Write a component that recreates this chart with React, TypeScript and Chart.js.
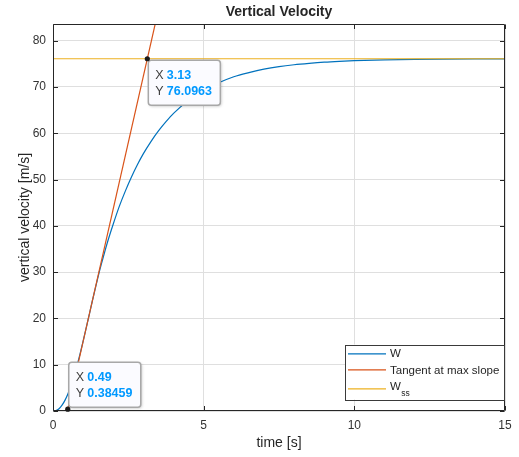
import React, { useEffect, useRef } from 'react';
import { Chart, registerables } from 'chart.js';

Chart.register(...registerables);

// ---- data ----
const timeW = [0, 0.1, 0.2, 0.3, 0.4, 0.5, 0.6, 0.7, 0.8, 0.9, 1.0, 1.1, 1.2, 1.3, 1.4, 1.5, 1.6, 1.8, 2.0, 2.2, 2.4, 2.6, 2.8, 3.0, 3.25, 3.5, 3.75, 4.0, 4.5, 5.0, 5.5, 6.0, 6.5, 7.0, 7.5, 8.0, 8.5, 9.0, 9.5, 10, 11, 12, 13, 14, 15];
const velocityW = [0, 0.1, 0.5, 1.25, 2.35, 3.8, 5.55, 7.6, 9.9, 12.4, 15.08, 17.88, 20.73, 23.6, 26.4, 29.1, 31.6, 36.3, 40.4, 44.2, 47.5, 50.5, 53.2, 55.6, 58.2, 60.5, 62.5, 64.3, 67.1, 69.3, 70.9, 72.2, 73.1, 73.85, 74.4, 74.8, 75.1, 75.35, 75.53, 75.67, 75.85, 75.96, 76.02, 76.05, 76.07];

const tangentT = [0.49, 3.5];
const tangentV = [0.38459, 86.71];

const wssT = [0, 15];
const wssV = [76.0963, 76.0963];

const tipX = [3.13, 0.49];
const tipY = [76.0963, 0.38459];
const tipXLabels = ['3.13', '0.49'];
const tipYLabels = ['76.0963', '0.38459'];

const xTickValues = [0, 5, 10, 15];
const yTickValues = [0, 10, 20, 30, 40, 50, 60, 70, 80];

const legendLabels = ['W', 'Tangent at max slope', 'W'];
const legendSub = ['', '', 'ss'];
const seriesColors = ['#0072BD', '#D95319', '#EDB120'];

const titleText = 'Vertical Velocity';
const xLabelText = 'time [s]';
const yLabelText = 'vertical velocity [m/s]';

const X_MIN = 0, X_MAX = 15, Y_MIN = 0, Y_MAX = 83.6;

const FONT = "'Liberation Sans', Arial, Helvetica, sans-serif";
const AXIS_COLOR = '#262626';

function roundRect(ctx: CanvasRenderingContext2D, x: number, y: number, w: number, h: number, r: number) {
  ctx.beginPath();
  ctx.moveTo(x + r, y);
  ctx.lineTo(x + w - r, y);
  ctx.arcTo(x + w, y, x + w, y + r, r);
  ctx.lineTo(x + w, y + h - r);
  ctx.arcTo(x + w, y + h, x + w - r, y + h, r);
  ctx.lineTo(x + r, y + h);
  ctx.arcTo(x, y + h, x, y + h - r, r);
  ctx.lineTo(x, y + r);
  ctx.arcTo(x, y, x + r, y, r);
  ctx.closePath();
}

const decorPlugin = {
  id: 'decor',
  afterDraw(chart: any) {
    const ctx: CanvasRenderingContext2D = chart.ctx;
    const a = chart.chartArea;
    const xs = chart.scales.x;
    const ys = chart.scales.y;
    ctx.save();

    // axes box
    const L = Math.round(a.left) + 0.5;
    const R = Math.round(a.right) - 0.5;
    const T = Math.round(a.top) + 0.5;
    const B = Math.round(a.bottom) - 0.5;
    ctx.strokeStyle = AXIS_COLOR;
    ctx.lineWidth = 1;
    ctx.beginPath();
    ctx.rect(L, T, R - L, B - T);
    ctx.stroke();

    // inward ticks on all four sides
    const tl = 4.5;
    ctx.beginPath();
    xTickValues.forEach((v) => {
      const px = Math.round(xs.getPixelForValue(v)) + 0.5;
      ctx.moveTo(px, B); ctx.lineTo(px, B - tl);
      ctx.moveTo(px, T); ctx.lineTo(px, T + tl);
    });
    yTickValues.forEach((v) => {
      const py = Math.round(ys.getPixelForValue(v)) + 0.5;
      ctx.moveTo(L, py); ctx.lineTo(L + tl, py);
      ctx.moveTo(R, py); ctx.lineTo(R - tl, py);
    });
    ctx.stroke();

    // title and axis labels
    const cx = (a.left + a.right) / 2;
    const cy = (a.top + a.bottom) / 2;
    ctx.fillStyle = AXIS_COLOR;
    ctx.textAlign = 'center';
    ctx.textBaseline = 'middle';
    ctx.font = `bold 14px ${FONT}`;
    ctx.fillText(titleText, cx, 12.5);
    ctx.font = `14px ${FONT}`;
    ctx.fillText(xLabelText, cx, 443);
    ctx.save();
    ctx.translate(25.5, cy);
    ctx.rotate(-Math.PI / 2);
    ctx.fillText(yLabelText, 0, 0);
    ctx.restore();

    // data tips
    tipX.forEach((tx, i) => {
      const px = xs.getPixelForValue(tx);
      const py = ys.getPixelForValue(tipY[i]);
      const w = 72, h = 45;
      const bx = px + 1;
      const by = i === 0 ? py + 1.5 : py - 2 - h;
      ctx.save();
      ctx.shadowColor = 'rgba(0,0,0,0.25)';
      ctx.shadowBlur = 3;
      ctx.shadowOffsetX = 1;
      ctx.shadowOffsetY = 1;
      roundRect(ctx, bx, by, w, h, 3);
      ctx.fillStyle = '#fbfbff';
      ctx.fill();
      ctx.restore();
      roundRect(ctx, bx, by, w, h, 3);
      ctx.strokeStyle = '#a8a8a8';
      ctx.lineWidth = 1.5;
      ctx.stroke();

      ctx.textAlign = 'left';
      ctx.textBaseline = 'middle';
      ctx.font = `12.5px ${FONT}`;
      ctx.fillStyle = '#404040';
      ctx.fillText('X', bx + 7, by + 15.5);
      ctx.fillText('Y', bx + 7, by + 31.5);
      ctx.font = `bold 12.5px ${FONT}`;
      ctx.fillStyle = 'rgb(0,153,255)';
      ctx.fillText(tipXLabels[i], bx + 18.5, by + 15.5);
      ctx.fillText(tipYLabels[i], bx + 18.5, by + 31.5);

      // marker
      ctx.beginPath();
      ctx.arc(px, py, 2.6, 0, Math.PI * 2);
      ctx.fillStyle = '#1a1a1a';
      ctx.fill();
    });

    // legend
    const lw = 159, lh = 55;
    const lr = Math.round(a.right) - 1;
    const lb = Math.round(a.bottom) - 11.5;
    const lx = lr - lw, ly = lb - lh;
    ctx.fillStyle = '#ffffff';
    ctx.fillRect(lx, ly, lw, lh);
    ctx.strokeStyle = '#3a3a3a';
    ctx.lineWidth = 1;
    ctx.strokeRect(Math.round(lx) + 0.5, Math.round(ly) + 0.5, lw, lh);
    const lineY = [9.3, 25.3, 44.3];
    const textY = [9.5, 26, 42.7];
    legendLabels.forEach((lab, i) => {
      ctx.strokeStyle = seriesColors[i];
      ctx.lineWidth = 1.2;
      ctx.beginPath();
      ctx.moveTo(lx + 3, ly + lineY[i]);
      ctx.lineTo(lx + 41, ly + lineY[i]);
      ctx.stroke();
      ctx.fillStyle = AXIS_COLOR;
      ctx.textAlign = 'left';
      ctx.textBaseline = 'middle';
      ctx.font = `11.5px ${FONT}`;
      ctx.fillText(lab, lx + 45, ly + textY[i]);
      if (legendSub[i]) {
        const wW = ctx.measureText(lab).width;
        ctx.font = `8.5px ${FONT}`;
        ctx.fillText(legendSub[i], lx + 45 + wW + 0.5, ly + textY[i] + 6.8);
      }
    });

    ctx.restore();
  },
};

export default function App() {
  const ref = useRef<HTMLCanvasElement>(null);

  useEffect(() => {
    const canvas = ref.current;
    if (!canvas) return;
    const tickFont = { family: FONT, size: 12 };
    const chart = new Chart(canvas, {
      type: 'line',
      data: {
        datasets: [
          {
            label: 'W',
            data: timeW.map((t, i) => ({ x: t, y: velocityW[i] })),
            borderColor: seriesColors[0],
            borderWidth: 1.2,
            pointRadius: 0,
            fill: false,
            cubicInterpolationMode: 'monotone',
            order: 3,
          },
          {
            label: 'Tangent at max slope',
            data: tangentT.map((t, i) => ({ x: t, y: tangentV[i] })),
            borderColor: seriesColors[1],
            borderWidth: 1.2,
            pointRadius: 0,
            fill: false,
            order: 2,
          },
          {
            label: 'Wss',
            data: wssT.map((t, i) => ({ x: t, y: wssV[i] })),
            borderColor: seriesColors[2],
            borderWidth: 1.2,
            pointRadius: 0,
            fill: false,
            order: 1,
          },
        ],
      },
      options: {
        responsive: false,
        animation: false,
        devicePixelRatio: 1,
        layout: { padding: { left: 0, top: 24, right: 14, bottom: 0 } },
        plugins: {
          legend: { display: false },
          tooltip: { enabled: false },
          title: { display: false },
        },
        scales: {
          x: {
            type: 'linear',
            min: X_MIN,
            max: X_MAX,
            afterBuildTicks: (s: any) => { s.ticks = xTickValues.map((v) => ({ value: v })); },
            afterFit: (s: any) => { s.height = 46; },
            grid: { color: '#dfdfdf', lineWidth: 1, drawTicks: false },
            border: { display: false },
            ticks: { font: tickFont, color: '#333333', padding: 7, maxRotation: 0, autoSkip: false },
          },
          y: {
            type: 'linear',
            min: Y_MIN,
            max: Y_MAX,
            afterBuildTicks: (s: any) => { s.ticks = yTickValues.map((v) => ({ value: v })); },
            afterFit: (s: any) => { s.width = 53; },
            grid: { color: '#dfdfdf', lineWidth: 1, drawTicks: false },
            border: { display: false },
            ticks: { font: tickFont, color: '#333333', padding: 7, autoSkip: false },
          },
        },
      } as any,
      plugins: [decorPlugin],
    });
    return () => chart.destroy();
  }, []);

  return (
    <div style={{ position: 'fixed', left: 0, top: 0, width: 519, height: 457, background: '#ffffff' }}>
      <canvas ref={ref} width={519} height={457} style={{ display: 'block' }} />
    </div>
  );
}
